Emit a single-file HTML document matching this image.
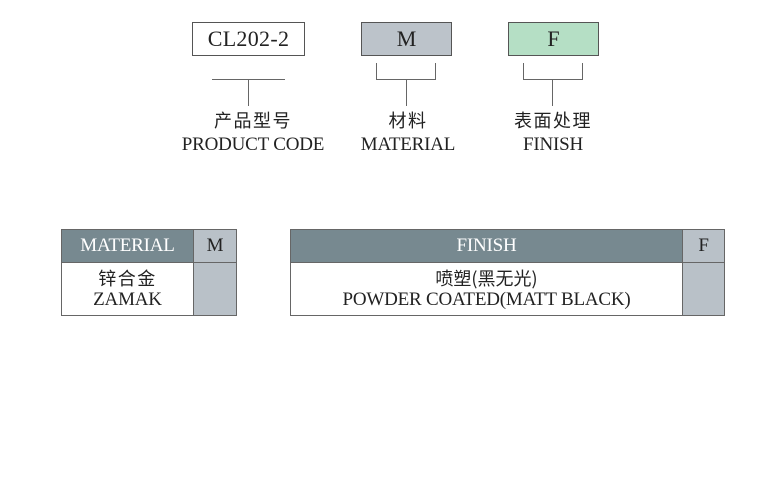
<!DOCTYPE html>
<html><head><meta charset="utf-8"><style>
body{margin:0;width:778px;height:500px;background:#fff;position:relative;overflow:hidden;font-family:"Liberation Serif","Noto Serif CJK SC",serif;color:#222}
.a{position:absolute;box-sizing:border-box}
.c{display:flex;align-items:center;justify-content:center;text-align:center;white-space:nowrap}
.l{position:absolute;background:#666}
.t{position:absolute;text-align:center;font-size:19px;letter-spacing:-0.2px;line-height:20px;white-space:nowrap}
.cj{font-family:"Noto Sans CJK SC",sans-serif;font-size:18px;letter-spacing:1.5px;font-weight:400}
.e{font-size:19px;letter-spacing:-0.2px}
</style></head><body>
<div class="a c" style="left:192px;top:22px;width:113px;height:34px;border:1px solid #555;font-size:22px;letter-spacing:0.3px">CL202-2</div>
<div class="a c" style="left:361px;top:22px;width:91px;height:34px;border:1px solid #555;background:#bcc3ca;font-size:22px">M</div>
<div class="a c" style="left:508px;top:22px;width:91px;height:34px;border:1px solid #555;background:#b5dfc5;font-size:22px">F</div>
<div class="l" style="left:212px;top:79px;width:73px;height:1px"></div>
<div class="l" style="left:248px;top:79px;width:1px;height:27px"></div>
<div class="l" style="left:376px;top:63px;width:1px;height:17px"></div>
<div class="l" style="left:435px;top:63px;width:1px;height:17px"></div>
<div class="l" style="left:376px;top:79px;width:60px;height:1px"></div>
<div class="l" style="left:406px;top:79px;width:1px;height:27px"></div>
<div class="l" style="left:523px;top:63px;width:1px;height:17px"></div>
<div class="l" style="left:582px;top:63px;width:1px;height:17px"></div>
<div class="l" style="left:523px;top:79px;width:60px;height:1px"></div>
<div class="l" style="left:552px;top:79px;width:1px;height:27px"></div>
<div class="t cj" style="left:178px;top:110px;width:150px">产品型号</div>
<div class="t" style="left:158px;top:135px;width:190px">PRODUCT CODE</div>
<div class="t cj" style="left:348px;top:110px;width:120px">材料</div>
<div class="t" style="left:338px;top:135px;width:140px">MATERIAL</div>
<div class="t cj" style="left:488px;top:110px;width:130px">表面处理</div>
<div class="t" style="left:488px;top:135px;width:130px">FINISH</div>

<div class="a" style="left:61px;top:229px;width:176px;height:87px;border:1px solid #666"></div>
<div class="a c e" style="left:62px;top:230px;width:131px;height:32px;background:#778990;color:#fff">MATERIAL</div>
<div class="a c e" style="left:193px;top:230px;width:43px;height:32px;background:#b9c1c8;border-left:1px solid #666">M</div>
<div class="a" style="left:62px;top:262px;width:174px;height:1px;background:#666"></div>
<div class="a c e" style="left:62px;top:263px;width:131px;height:52px;flex-direction:column;line-height:22px"><span class="cj">锌合金</span><span>ZAMAK</span></div>
<div class="a" style="left:193px;top:263px;width:43px;height:52px;background:#b9c1c8;border-left:1px solid #666"></div>

<div class="a" style="left:290px;top:229px;width:435px;height:87px;border:1px solid #666"></div>
<div class="a c e" style="left:291px;top:230px;width:391px;height:32px;background:#778990;color:#fff">FINISH</div>
<div class="a c e" style="left:682px;top:230px;width:42px;height:32px;background:#b9c1c8;border-left:1px solid #666">F</div>
<div class="a" style="left:291px;top:262px;width:433px;height:1px;background:#666"></div>
<div class="a c e" style="left:291px;top:263px;width:391px;height:52px;flex-direction:column;line-height:22px"><span class="cj" style="letter-spacing:0">喷塑(黑无光)</span><span>POWDER COATED(MATT BLACK)</span></div>
<div class="a" style="left:682px;top:263px;width:42px;height:52px;background:#b9c1c8;border-left:1px solid #666"></div>
</body></html>
